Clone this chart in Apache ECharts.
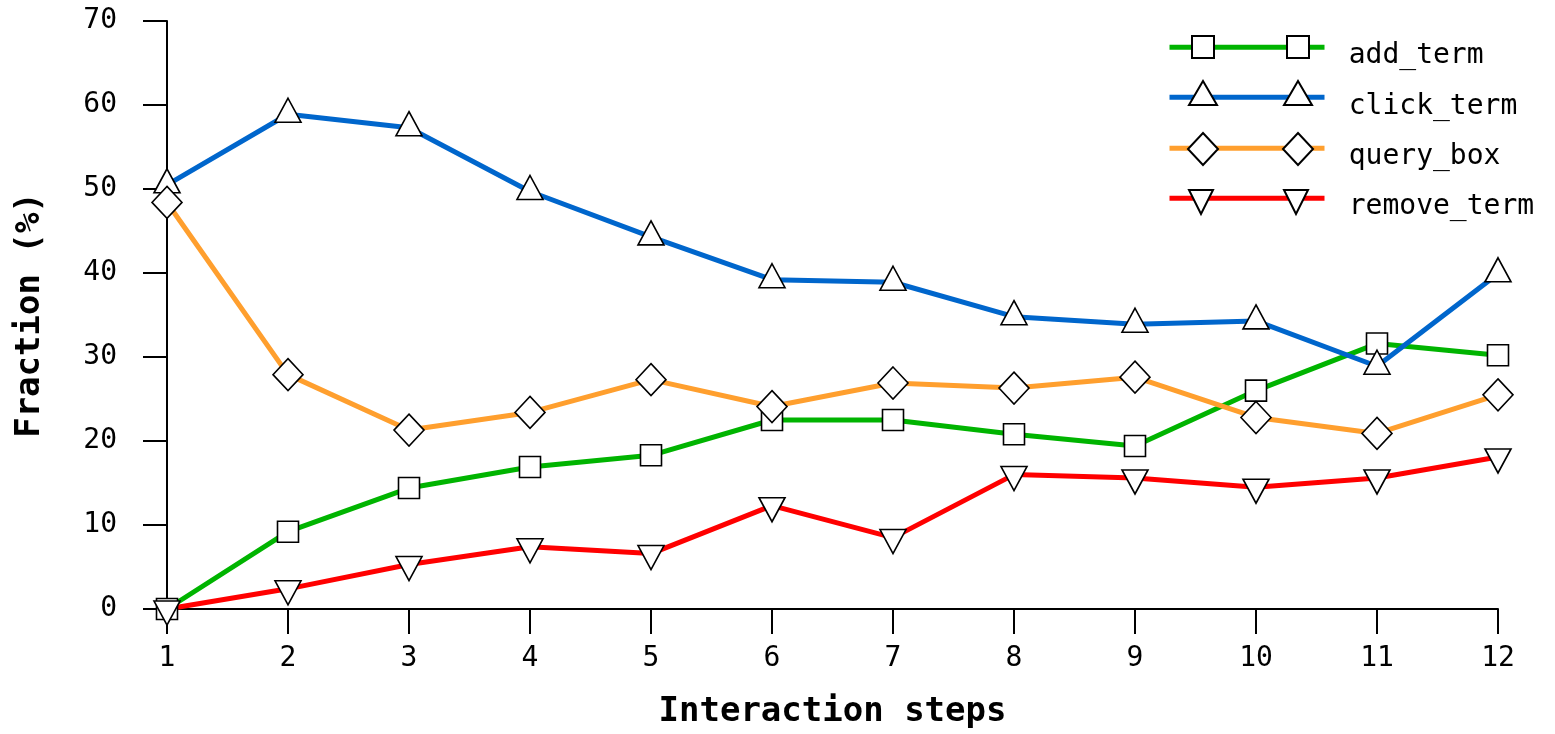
<!DOCTYPE html>
<html>
<head>
<meta charset="utf-8">
<title>Fraction of interaction types per step</title>
<script src="https://cdn.jsdelivr.net/npm/echarts@6/dist/echarts.min.js"></script>
<style>
  html, body { margin: 0; padding: 0; background: #fff; }
  #chart { width: 1555px; height: 734px; }
</style>
</head>
<body>
<div id="chart"></div>
<script>
// Interaction steps on the x axis
const steps = [1, 2, 3, 4, 5, 6, 7, 8, 9, 10, 11, 12];

// Fraction (%) of each interaction type at every step
const addTerm    = [0, 9.2, 14.4, 16.9, 18.3, 22.5, 22.5, 20.8, 19.4, 26.0, 31.6, 30.2];
const clickTerm  = [50.5, 58.9, 57.3, 49.7, 44.3, 39.2, 38.9, 34.8, 33.9, 34.3, 28.9, 39.9];
const queryBox   = [48.4, 27.9, 21.3, 23.4, 27.3, 24.1, 26.9, 26.3, 27.6, 22.8, 20.9, 25.5];
const removeTerm = [0, 2.4, 5.3, 7.4, 6.6, 12.3, 8.5, 16.0, 15.6, 14.5, 15.6, 18.1];

const seriesNames = ['add_term', 'click_term', 'query_box', 'remove_term'];

const FONT = '"DejaVu Sans Mono", "Liberation Mono", monospace';

const pairs = (ys) => steps.map((x, i) => [x, ys[i]]);

const markerStyle = { color: '#ffffff', borderColor: '#000000', borderWidth: 1.6 };

const DOWN_TRIANGLE = 'path://M0,0L2,0L1,2Z';

// Legend key geometry
const LEGEND_LINE_LEFT = 1167;
const LEGEND_LINE_WIDTH = 155;
const LEGEND_TEXT_LEFT = 1350;
const LEGEND_FIRST_ROW = 46;
const LEGEND_ROW_STEP = 50.3;
const LEGEND_TEXT_DROP = 10;
const LEGEND_MARKER_X = [1202, 1297];
// marker shape, box size and vertical shift of its box centre from the key line
const legendMarkers = [
  { icon: 'rect',        w: 22, h: 22, dy: 0 },
  { icon: 'triangle',    w: 28, h: 24, dy: -4 },
  { icon: 'diamond',     w: 30, h: 32, dy: 1 },
  { icon: DOWN_TRIANGLE, w: 28, h: 24, dy: 4 }
];

function lineSeries(name, ys, color, symbol, size, extra) {
  return Object.assign({
    name: name,
    type: 'line',
    data: pairs(ys),
    symbol: symbol,
    symbolSize: size,
    showAllSymbol: true,
    clip: false,
    animation: false,
    lineStyle: { color: color, width: 5 },
    itemStyle: markerStyle,
    emphasis: { disabled: true }
  }, extra || {});
}

const chart = echarts.init(document.getElementById('chart'), null, { renderer: 'canvas' });

const hiddenText = { fontSize: 1, lineHeight: 1 };

// Key labels, set a little below their lines
const textLegend = {
  orient: 'vertical',
  left: LEGEND_TEXT_LEFT - 19,
  top: LEGEND_FIRST_ROW + LEGEND_TEXT_DROP - 14,
  padding: 0,
  itemWidth: 1,
  itemHeight: 28,
  itemGap: LEGEND_ROW_STEP - 28,
  selectedMode: false,
  itemStyle: { opacity: 0 },
  lineStyle: { opacity: 0 },
  textStyle: { fontFamily: FONT, fontSize: 28, color: '#000', lineHeight: 28 },
  data: seriesNames
};

// One coloured line and two white markers for every key row
const keyLegends = [];
seriesNames.forEach((name, i) => {
  const m = legendMarkers[i];
  const rowY = LEGEND_FIRST_ROW + i * LEGEND_ROW_STEP;
  keyLegends.push({
    left: LEGEND_LINE_LEFT,
    top: Math.round(rowY - 11),
    padding: 0,
    itemWidth: LEGEND_LINE_WIDTH,
    itemHeight: 28,
    selectedMode: false,
    itemStyle: { opacity: 0 },
    lineStyle: { width: 5 },
    formatter: () => '',
    textStyle: hiddenText,
    data: [name]
  });
  LEGEND_MARKER_X.forEach((cx) => {
    keyLegends.push({
      left: Math.round(cx - m.w / 2),
      top: Math.round(rowY + m.dy - m.h / 2),
      padding: 0,
      itemWidth: m.w,
      itemHeight: m.h,
      selectedMode: false,
      formatter: () => '',
      textStyle: hiddenText,
      data: [{ name: name, icon: m.icon }]
    });
  });
});

chart.setOption({
  backgroundColor: '#ffffff',
  animation: false,
  grid: { left: 167, right: 57, top: 21, bottom: 121 },
  legend: [textLegend].concat(keyLegends),
  xAxis: {
    type: 'value',
    min: 1,
    max: 12,
    interval: 1,
    name: 'Interaction steps',
    nameLocation: 'middle',
    nameGap: 86,
    nameTextStyle: { fontFamily: FONT, fontSize: 34, fontWeight: 'bold', color: '#000' },
    axisLine: { show: true, lineStyle: { color: '#000', width: 2 } },
    axisTick: { show: true, inside: false, length: 25, lineStyle: { color: '#000', width: 2 } },
    axisLabel: { margin: 36, fontFamily: FONT, fontSize: 28, color: '#000' },
    splitLine: { show: false }
  },
  yAxis: {
    type: 'value',
    min: 0,
    max: 70,
    interval: 10,
    name: 'Fraction (%)',
    nameLocation: 'middle',
    nameGap: 120,
    nameTextStyle: { fontFamily: FONT, fontSize: 34, fontWeight: 'bold', color: '#000' },
    axisLine: { show: true, lineStyle: { color: '#000', width: 2 } },
    axisTick: { show: true, inside: false, length: 24, lineStyle: { color: '#000', width: 2 } },
    axisLabel: { margin: 50, fontFamily: FONT, fontSize: 28, color: '#000' },
    splitLine: { show: false }
  },
  series: [
    lineSeries('add_term', addTerm, '#00b400', 'rect', 21),
    lineSeries('click_term', clickTerm, '#0066cc', 'triangle', [26, 24], { symbolOffset: [0, -4] }),
    lineSeries('query_box', queryBox, '#ff9f2e', 'diamond', [30, 32]),
    lineSeries('remove_term', removeTerm, '#ff0000', DOWN_TRIANGLE, [26, 24], { symbolOffset: [0, 4] })
  ]
});
</script>
</body>
</html>
